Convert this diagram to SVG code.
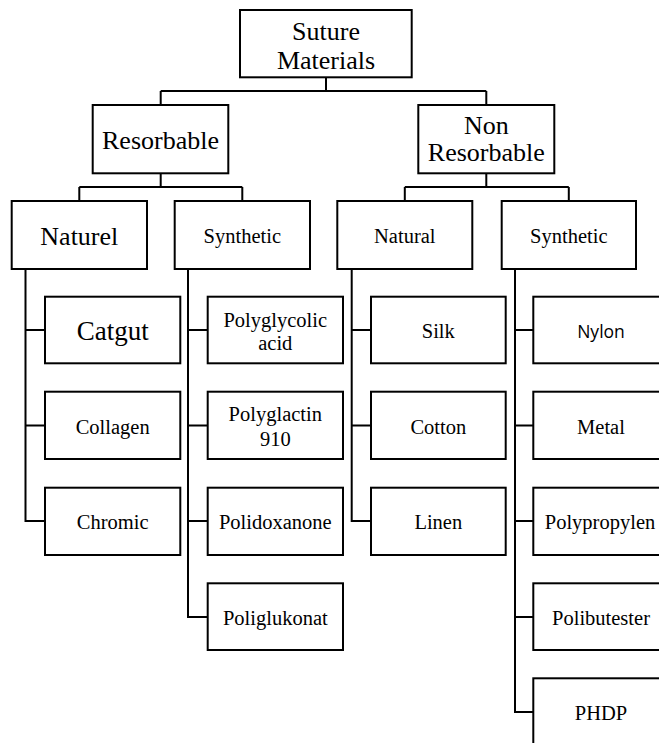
<svg xmlns="http://www.w3.org/2000/svg" width="659" height="743" viewBox="0 0 659 743">
<style>
.box{fill:#fff;stroke:#000;stroke-width:2}
.con{fill:none;stroke:#000;stroke-width:2}
text{fill:#000;text-anchor:middle}
.big{font-size:26px}
.sm{font-size:20.5px}
.sans{font-size:17.5px}
</style>
<rect width="659" height="743" fill="#fff"/>
<g id="connectors" class="con">
<path d="M326,77 V91 M160.7,91 H486.3 M160.7,91 V105 M486.3,91 V105"/>
<path d="M160.7,173 V187 M79.3,187 H242.3 M79.3,187 V201 M242.3,187 V201"/>
<path d="M486.3,173 V187 M404.8,187 H568.8 M404.8,187 V201 M568.8,187 V201"/>
<path d="M25.5,269 V521 H45 M25.5,330 H45 M25.5,425.5 H45"/>
<path d="M188,269 V617 H207.7 M188,330 H207.7 M188,425.5 H207.7 M188,521 H207.7"/>
<path d="M351.7,269 V521 H371 M351.7,330 H371 M351.7,425.5 H371"/>
<path d="M515,269 V712 H533.3 M515,330 H533.3 M515,425.5 H533.3 M515,521 H533.3 M515,617 H533.3"/>
</g>
<g font-family="'Liberation Serif', 'DejaVu Serif', serif">
<g id="root"><rect class="box" x="240" y="10" width="171.7" height="67.3"/><text class="big" x="326" y="39.5">Suture</text><text class="big" x="326" y="69">Materials</text></g>
<g id="resorbable"><rect class="box" x="92.7" y="105" width="135.6" height="68.3"/><text class="big" x="160.5" y="149">Resorbable</text></g>
<g id="non-resorbable"><rect class="box" x="418.3" y="105" width="136" height="68.3"/><text class="big" x="486.3" y="134">Non</text><text class="big" x="486.3" y="160.5">Resorbable</text></g>
<g id="res-naturel"><rect class="box" x="11.7" y="201" width="135.3" height="68"/><text class="big" x="79.3" y="245">Naturel</text></g>
<g id="res-synthetic"><rect class="box" x="174.7" y="201" width="135.3" height="68"/><text class="sm" x="242.3" y="243">Synthetic</text></g>
<g id="non-natural"><rect class="box" x="337.3" y="201" width="135" height="68"/><text class="sm" x="404.8" y="243">Natural</text></g>
<g id="non-synthetic"><rect class="box" x="501.7" y="201" width="134.3" height="68"/><text class="sm" x="568.8" y="243">Synthetic</text></g>
<g id="catgut"><rect class="box" x="45" y="296.7" width="135.3" height="66.6"/><text x="112.7" y="340" font-size="27">Catgut</text></g>
<g id="collagen"><rect class="box" x="45" y="391.7" width="135.3" height="67.3"/><text class="sm" x="112.7" y="433.5">Collagen</text></g>
<g id="chromic"><rect class="box" x="45" y="487.7" width="135.3" height="67.3"/><text class="sm" x="112.7" y="529">Chromic</text></g>
<g id="polyglycolic"><rect class="box" x="207.7" y="296.7" width="135.3" height="66.6"/><text class="sm" x="275.3" y="326.5">Polyglycolic</text><text class="sm" x="275.3" y="349.5">acid</text></g>
<g id="polyglactin"><rect class="box" x="207.7" y="391.7" width="135.3" height="67.3"/><text class="sm" x="275.3" y="421">Polyglactin</text><text class="sm" x="275.3" y="446">910</text></g>
<g id="polidoxanone"><rect class="box" x="207.7" y="487.7" width="135.3" height="67.3"/><text class="sm" x="275.3" y="529">Polidoxanone</text></g>
<g id="poliglukonat"><rect class="box" x="207.7" y="583.3" width="135.3" height="66.7"/><text class="sm" x="275.3" y="624.5">Poliglukonat</text></g>
<g id="silk"><rect class="box" x="371" y="296.7" width="134.7" height="66.6"/><text class="sm" x="438.3" y="338">Silk</text></g>
<g id="cotton"><rect class="box" x="371" y="391.7" width="134.7" height="67.3"/><text class="sm" x="438.3" y="433.5">Cotton</text></g>
<g id="linen"><rect class="box" x="371" y="487.7" width="134.7" height="67.3"/><text class="sm" x="438.3" y="529">Linen</text></g>
<g id="metal"><rect class="box" x="533.3" y="391.7" width="136" height="67.3"/><text class="sm" x="601" y="433.5">Metal</text></g>
<g id="polypropylen"><rect class="box" x="533.3" y="487.7" width="136" height="67.3"/><text class="sm" x="600" y="529">Polypropylen</text></g>
<g id="polibutester"><rect class="box" x="533.3" y="583.3" width="136" height="66.7"/><text class="sm" x="601" y="624.5">Polibutester</text></g>
<g id="phdp"><rect class="box" x="533.3" y="678.3" width="136" height="67"/><text class="sm" x="601" y="719.5">PHDP</text></g>
</g>
<g id="nylon" font-family="'Open Sans', 'Liberation Sans', sans-serif"><rect class="box" x="533.3" y="296.7" width="136" height="66.6"/><text class="sans" x="601" y="337.7">Nylon</text></g>
</svg>
